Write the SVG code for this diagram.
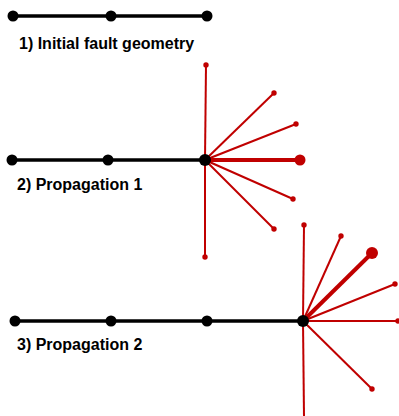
<svg xmlns="http://www.w3.org/2000/svg" width="399" height="416" viewBox="0 0 399 416">
<style>
.f{stroke:#000;stroke-width:3.5;fill:none}
.n{fill:#000}
.r{stroke:#c00000;stroke-width:2;fill:none}
.rt{stroke:#c00000;stroke-width:4;fill:none}
.rd{fill:#c00000}
text{font-family:"Liberation Sans",Arial,sans-serif;font-weight:bold;font-size:16px;fill:#000}
</style>
<rect width="399" height="416" fill="#fff"/>
<g id="connectors">
<line class="f" x1="13" y1="16" x2="207" y2="16"/>
<line class="f" x1="12" y1="160" x2="205" y2="160"/>
<line class="f" x1="15" y1="321" x2="303" y2="321"/>
<line class="r" x1="205" y1="160" x2="206" y2="65"/>
<line class="r" x1="205" y1="160" x2="274" y2="93"/>
<line class="r" x1="205" y1="160" x2="296" y2="124"/>
<line class="rt" x1="205" y1="160" x2="300" y2="160"/>
<line class="r" x1="205" y1="160" x2="293" y2="199"/>
<line class="r" x1="205" y1="160" x2="274" y2="229"/>
<line class="r" x1="205" y1="160" x2="205" y2="257"/>
<line class="r" x1="303" y1="321" x2="304" y2="225"/>
<line class="r" x1="303" y1="321" x2="341" y2="236"/>
<line class="rt" x1="303" y1="321" x2="372" y2="253"/>
<line class="r" x1="303" y1="321" x2="395" y2="284"/>
<line class="r" x1="303" y1="321" x2="399" y2="321"/>
<line class="r" x1="303" y1="321" x2="372" y2="389"/>
<line class="r" x1="303" y1="321" x2="304" y2="416"/>
</g>
<g id="row1">
<circle class="n" cx="13" cy="16" r="5.5"/>
<circle class="n" cx="111" cy="16" r="5.5"/>
<circle class="n" cx="207" cy="16" r="5.5"/>
<text x="19" y="48.5">1) Initial fault geometry</text>
</g>
<g id="row2">
<circle class="n" cx="12" cy="160" r="5.5"/>
<circle class="n" cx="108" cy="160" r="5.5"/>
<circle class="rd" cx="206" cy="65" r="2.7"/>
<circle class="rd" cx="274" cy="93" r="2.7"/>
<circle class="rd" cx="296" cy="124" r="2.7"/>
<circle class="rd" cx="300" cy="160" r="5.5"/>
<circle class="rd" cx="293" cy="199" r="2.7"/>
<circle class="rd" cx="274" cy="229" r="2.7"/>
<circle class="rd" cx="205" cy="257" r="2.7"/>
<circle class="n" cx="205" cy="160" r="6"/>
<text x="17" y="190">2) Propagation 1</text>
</g>
<g id="row3">
<circle class="n" cx="15" cy="321" r="5.5"/>
<circle class="n" cx="111" cy="321" r="5.5"/>
<circle class="n" cx="207" cy="321" r="5.5"/>
<circle class="rd" cx="304" cy="225" r="2.7"/>
<circle class="rd" cx="341" cy="236" r="2.7"/>
<circle class="rd" cx="372" cy="253" r="6"/>
<circle class="rd" cx="395" cy="284" r="2.7"/>
<circle class="rd" cx="398" cy="321" r="2.7"/>
<circle class="rd" cx="372" cy="389" r="2.7"/>
<circle class="n" cx="303" cy="321" r="6"/>
<text x="17" y="350">3) Propagation 2</text>
</g>
</svg>
